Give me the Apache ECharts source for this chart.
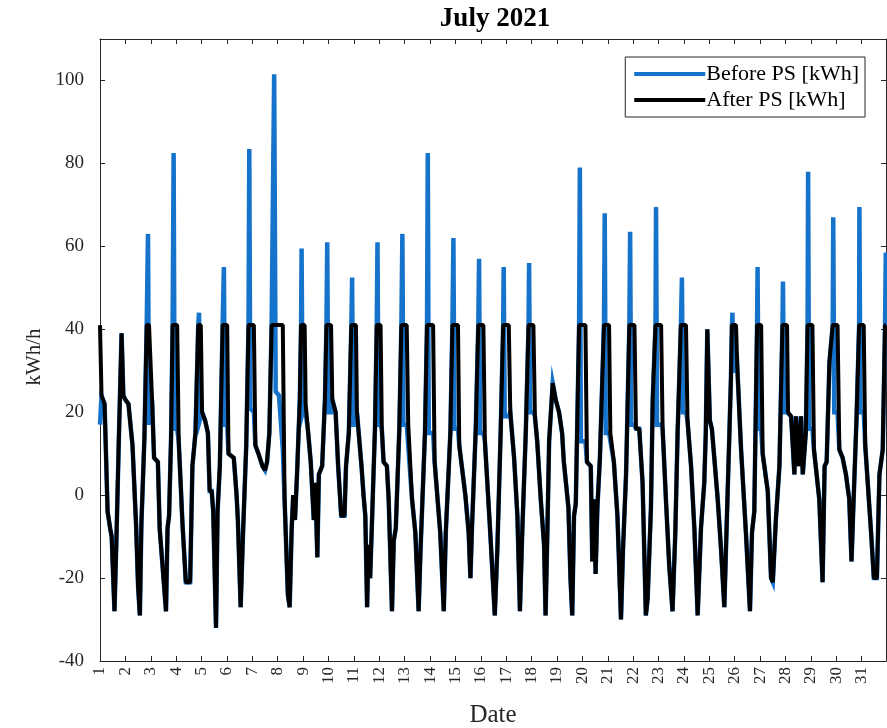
<!DOCTYPE html>
<html><head><meta charset="utf-8">
<script src="https://cdn.jsdelivr.net/npm/echarts@6/dist/echarts.min.js"></script>
<style>html,body{margin:0;padding:0;background:#fff}#c{width:887px;height:728px}</style>
</head><body><div id="c"></div>
<script>
// time in days of July 2021 (1.0 = July 1, 00:00)
const timeDays = [
 1.00,1.06,1.18,1.30,1.40,1.46,1.57,1.65,1.74,1.85,1.92,
 2.00,2.12,2.28,2.42,2.50,2.57,2.63,2.75,2.84,2.89,2.93,
 3.00,3.05,3.13,3.28,3.35,3.50,3.60,3.66,3.72,3.80,3.86,3.90,3.94,
 4.04,4.10,4.25,4.38,4.55,4.64,4.76,4.87,4.90,4.93,4.97,
 5.02,5.14,5.25,5.32,5.40,5.46,5.57,5.63,5.72,5.83,5.88,5.92,
 6.01,6.06,6.27,6.38,6.43,6.54,6.64,6.76,6.85,6.88,6.92,
 7.06,7.12,7.24,7.40,7.50,7.58,7.67,7.76,7.86,7.92,
 8.05,8.20,8.27,8.40,8.47,8.55,8.61,8.68,8.76,8.87,8.92,8.94,8.98,
 9.06,9.10,9.20,9.30,9.42,9.48,9.56,9.62,9.75,9.86,9.92,9.95,9.99,
 10.10,10.15,10.28,10.38,10.50,10.63,10.69,10.80,10.90,10.93,10.97,
 11.08,11.12,11.30,11.38,11.45,11.52,11.58,11.64,11.72,11.83,11.90,11.93,11.97,
 12.05,12.10,12.17,12.30,12.37,12.50,12.57,12.65,12.79,12.87,12.91,12.95,
 13.08,13.14,13.29,13.42,13.55,13.62,13.80,13.88,13.91,13.95,
 14.12,14.18,14.40,14.54,14.62,14.80,14.88,14.92,14.96,
 15.10,15.15,15.39,15.52,15.59,15.65,15.80,15.90,15.93,15.97,
 16.10,16.16,16.37,16.55,16.65,16.78,16.88,16.90,16.94,
 17.10,17.16,17.31,17.44,17.54,17.63,17.77,17.88,17.90,17.94,
 18.07,18.13,18.22,18.36,18.49,18.55,18.62,18.69,18.75,18.83,18.95,
 19.08,19.20,19.27,19.45,19.53,19.60,19.67,19.74,19.87,19.90,19.94,
 20.12,20.18,20.33,20.39,20.46,20.52,20.59,20.69,20.85,20.88,20.92,
 21.05,21.10,21.24,21.38,21.52,21.60,21.72,21.85,21.88,21.92,
 22.05,22.11,22.24,22.37,22.50,22.57,22.70,22.77,22.88,22.90,22.94,
 23.10,23.16,23.29,23.42,23.55,23.66,23.75,23.88,23.92,23.96,
 24.08,24.14,24.28,24.41,24.54,24.67,24.80,24.86,24.92,
 25.02,25.10,25.33,25.46,25.59,25.66,25.79,25.85,25.89,25.91,25.95,
 26.05,26.10,26.25,26.44,26.60,26.68,26.77,26.88,26.90,26.94,
 27.04,27.10,27.30,27.43,27.50,27.62,27.76,27.88,27.90,27.94,
 28.06,28.10,28.22,28.35,28.41,28.52,28.61,28.68,28.80,28.87,28.89,28.93,
 29.06,29.12,29.33,29.46,29.54,29.62,29.73,29.86,29.88,29.92,
 30.05,30.12,30.25,30.38,30.51,30.60,30.66,30.80,30.90,30.91,30.95,
 31.08,31.14,31.37,31.48,31.60,31.70,31.83,31.92,31.95
];
const beforePS = [
 17,24,22,-4,-8,-10,-28,-10,13,39,24,
 23,22,12,-7,-22,-29,-7,14,41,63,17,
 17,23,9,8,-8,-20,-28,-8,-5,14,41,82.5,16,
 16,13,-7,-21,-21,7,15,41,44,18,18,
 20,18,15,1,1,-4,-32,-4,7,41,55,17,
 17,10,9,0,-6,-27,-8,12,41,83.5,21,
 20,12,10,7,6,8,15,41,101.5,25,
 24,11,-1,-24,-27,-8,0,-6,5,23,41,59.5,20,
 22,22,15,8,-6,3,-15,5,7,23,41,61,20,
 20,23,20,7,-5,-5,7,15,41,52.5,17,
 17,20,7,0,-5,-27,-12,-20,-5,16,41,61,17,
 17,16,8,7,-1,-28,-11,-8,16,41,63,17,
 17,17,-1,-9,-28,-14,15,41,82.5,15,
 15,8,-9,-28,-9,15,41,62,16,
 16,12,0,-9,-20,-8,16,41,57,15,
 15,13,-9,-29,-13,15,41,55,19,
 19,20,9,-5,-28,-9,15,41,56,20,
 20,19,13,-1,-12,-29,-9,13,13,27,23,
 20,15,8,-3,-20,-29,-5,-2,41,79,13,
 13,8,7,-16,-1,-19,-3,9,41,68,15,
 15,15,8,-5,-30,-13,5,41,63.5,17,
 17,16,16,3,-29,-25,-3,23,41,69.5,17,
 17,16,-1,-17,-28,-9,15,41,52.5,20,
 20,18,7,-8,-29,-8,3,15,40,
 18,16,-1,-13,-27,-12,15,28,41,44,30,
 30,31,11,-9,-28,-9,-4,41,55,16,
 16,10,1,-20,-21,-6,7,41,51.5,20,
 20,20,19,5,19,7,19,5,15,41,78,16,
 16,11,-1,-21,7,8,32,41,67,20,
 20,11,9,5,-1,-16,-5,19,41,69.5,20,
 20,12,-9,-20,-20,5,11,41,58.5
];
const afterPS = [
 41,24,22,-4,-8,-10,-28,-10,13,39,24,
 23,22,12,-7,-22,-29,-7,14,41,41,41,
 41,23,9,8,-8,-20,-28,-8,-5,14,41,41,41,
 41,13,-7,-21,-21,7,15,41,41,41,41,
 20,18,15,1,1,-4,-32,-4,7,41,41,41,
 41,10,9,0,-6,-27,-8,12,41,41,41,
 41,12,10,7,6,8,15,41,41,41,
 41,41,-1,-24,-27,-8,0,-6,5,23,41,41,41,
 41,22,15,8,-6,3,-15,5,7,23,41,41,41,
 41,23,20,7,-5,-5,7,15,41,41,41,
 41,20,7,0,-5,-27,-12,-20,-5,16,41,41,41,
 41,16,8,7,-1,-28,-11,-8,16,41,41,41,
 41,17,-1,-9,-28,-14,15,41,41,41,
 41,8,-9,-28,-9,15,41,41,41,
 41,12,0,-9,-20,-8,16,41,41,41,
 41,13,-9,-29,-13,15,41,41,41,
 41,20,9,-5,-28,-9,15,41,41,41,
 41,19,13,-1,-12,-29,-9,13,13,27,23,
 20,15,8,-3,-20,-29,-5,-2,41,41,41,
 41,8,7,-16,-1,-19,-3,9,41,41,41,
 41,15,8,-5,-30,-13,5,41,41,41,
 41,16,16,3,-29,-25,-3,23,41,41,41,
 41,16,-1,-17,-28,-9,15,41,41,41,
 41,18,7,-8,-29,-8,3,15,40,
 18,16,-1,-13,-27,-12,15,28,41,41,41,
 41,31,11,-9,-28,-9,-4,41,41,41,
 41,10,1,-20,-21,-6,7,41,41,41,
 41,20,19,5,19,7,19,5,15,41,41,41,
 41,11,-1,-21,7,8,32,41,41,41,
 41,11,9,5,-1,-16,-5,19,41,41,41,
 41,12,-9,-20,-20,5,11,41,41
];
const seriesNames = ['Before PS [kWh]', 'After PS [kWh]'];
const yTicks = [-40, -20, 0, 20, 40, 60, 80, 100];
const dayLabels = Array.from({length: 31}, (_, i) => String(i + 1));

const serif = "'Liberation Serif','Times New Roman',serif";
const axisColor = '#262626';
const blue = '#1573cc';
const chart = echarts.init(document.getElementById('c'));
const beforeData = timeDays.map((t, i) => [t, beforePS[i]]);
const afterData = timeDays.map((t, i) => [t, afterPS[i]]);

const xBase = {
  type: 'value', min: 1, max: 31.958, interval: 1,
  axisLine: {show: true, onZero: false, lineStyle: {color: axisColor, width: 1}},
  axisTick: {show: true, inside: true, length: 5, lineStyle: {color: axisColor}},
  splitLine: {show: false}
};
const yBase = {
  type: 'value', min: yTicks[0], max: 110, interval: 20,
  axisLine: {show: true, onZero: false, lineStyle: {color: axisColor, width: 1}},
  axisTick: {show: true, inside: true, length: 5, lineStyle: {color: axisColor}},
  splitLine: {show: false}
};

chart.setOption({
  animation: false,
  backgroundColor: '#fff',
  title: {
    text: 'July 2021', left: 490, top: 1, textAlign: 'center',
    textStyle: {fontFamily: serif, fontWeight: 'bold', fontSize: 27, color: '#000'}
  },
  legend: {
    orient: 'vertical', right: 22, top: 57,
    data: seriesNames,
    icon: 'rect', itemWidth: 71, itemHeight: 4, itemGap: 4,
    borderColor: axisColor, borderWidth: 1, backgroundColor: '#fff',
    padding: [6, 6, 6, 9],
    textStyle: {fontFamily: serif, fontSize: 22, color: '#000', padding: [0, 0, 0, -4]}
  },
  grid: {left: 100, right: 1, top: 39, bottom: 67, containLabel: false, outerBoundsMode: 'none'},
  xAxis: [
    Object.assign({}, xBase, {
      position: 'bottom',
      name: 'Date', nameLocation: 'middle', nameGap: 42,
      nameTextStyle: {fontFamily: serif, fontSize: 25, color: axisColor},
      axisLabel: {
        show: true, rotate: 90, margin: 6, fontFamily: serif, fontSize: 17, color: axisColor,
        formatter: v => (Number.isInteger(v) ? dayLabels[v - 1] : '')
      }
    }),
    Object.assign({}, xBase, {position: 'top', axisLabel: {show: false}})
  ],
  yAxis: [
    Object.assign({}, yBase, {
      position: 'left',
      name: 'kWh/h', nameLocation: 'middle', nameGap: 53, nameRotate: 90,
      nameTextStyle: {fontFamily: serif, fontSize: 21, color: axisColor, padding: [0, 14, 0, 0]},
      axisLabel: {
        show: true, margin: 16, fontFamily: serif, fontSize: 19, color: axisColor,
        showMaxLabel: false,
        formatter: v => (yTicks.indexOf(v) >= 0 ? String(v) : '')
      }
    }),
    Object.assign({}, yBase, {position: 'right', axisLabel: {show: false}})
  ],
  series: [
    {
      name: seriesNames[0], type: 'line', data: beforeData, xAxisIndex: 0, yAxisIndex: 0,
      showSymbol: false, symbol: 'none', color: blue,
      lineStyle: {color: blue, width: 4.5, join: 'miter'}, z: 2, clip: true
    },
    {
      name: seriesNames[1], type: 'line', data: afterData, xAxisIndex: 0, yAxisIndex: 0,
      showSymbol: false, symbol: 'none', color: '#000000',
      lineStyle: {color: '#000000', width: 4}, z: 3, clip: true
    }
  ]
});
</script>
</body></html>
